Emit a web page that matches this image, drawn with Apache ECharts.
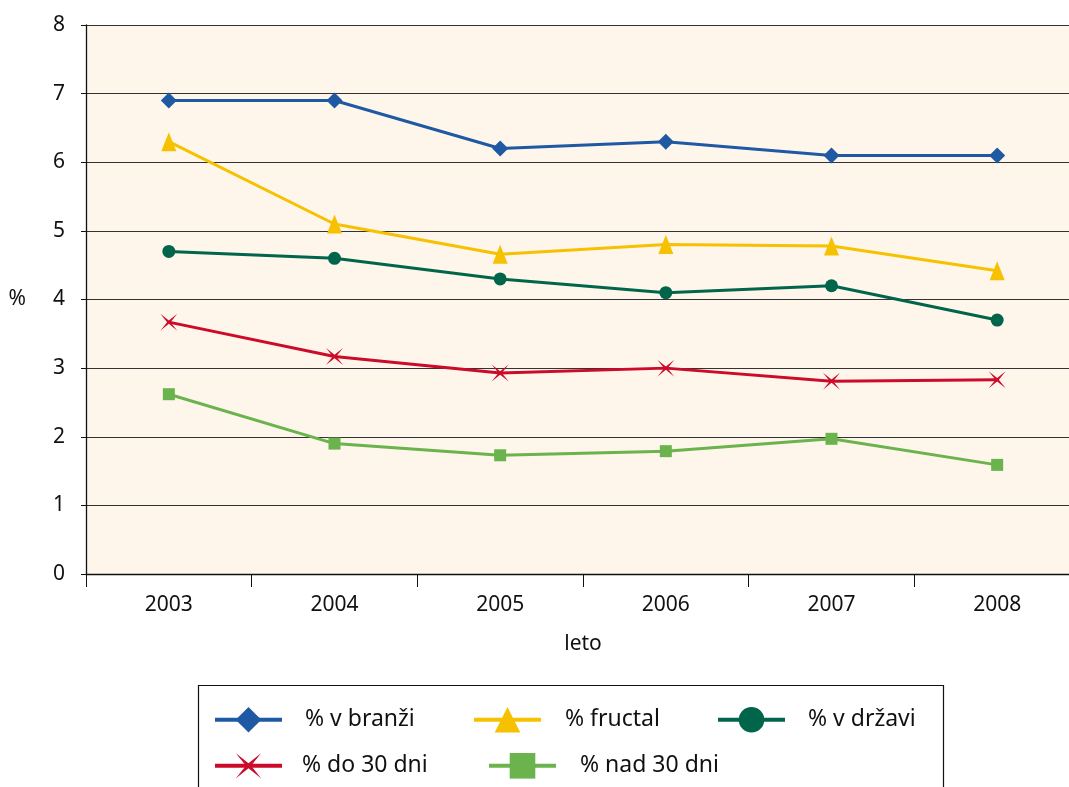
<!DOCTYPE html>
<html>
<head>
<meta charset="utf-8">
<script src="https://cdn.jsdelivr.net/npm/echarts@6/dist/echarts.min.js"></script>
<style>
  html, body { margin: 0; padding: 0; background: #fff; overflow: hidden; }
  /* the plot runs a little past the right edge of the window */
  #chart { width: 1080px; height: 787px; }
</style>
</head>
<body>
<div id="chart"></div>
<script>
// Years on the category axis
const years = ['2003', '2004', '2005', '2006', '2007', '2008'];

// Shares in percent, one array per series
const vBranzi   = [6.9, 6.9, 6.2, 6.3, 6.1, 6.1];
const fructal   = [6.3, 5.1, 4.66, 4.8, 4.78, 4.42];
const vDrzavi   = [4.7, 4.6, 4.3, 4.1, 4.2, 3.7];
const do30dni   = [3.67, 3.17, 2.93, 3.0, 2.81, 2.83];
const nad30dni  = [2.62, 1.9, 1.73, 1.79, 1.97, 1.59];

// Y axis range and step
const yMin = 0, yMax = 8, yStep = 1;

const FONT = 'Noto Sans';
const AXIS_FS = 21;
const LEGEND_FS = 23;
const crossPath = 'path://M0,0 L10,8 L20,0 L12,10 L20,20 L10,12 L0,20 L8,10 Z';

const seriesDefs = [
  { name: '% v branži',   data: vBranzi,  color: '#1F58A3', symbol: 'diamond',  size: [16, 16], legendPos: [208, 702], textPad: 18 },
  { name: '% fructal',    data: fructal,  color: '#F6C100', symbol: 'triangle', size: [15, 19], legendPos: [467, 702], textPad: 19 },
  { name: '% v državi',   data: vDrzavi,  color: '#00654B', symbol: 'circle',   size: 13,       legendPos: [711, 702], textPad: 18 },
  { name: '% do 30 dni',  data: do30dni,  color: '#CC0A2A', symbol: crossPath,  size: 17,       legendPos: [208, 748], textPad: 15 },
  { name: '% nad 30 dni', data: nad30dni, color: '#6AB34D', symbol: 'rect',     size: 12,       legendPos: [482, 748], textPad: 19 }
];

const chart = echarts.init(document.getElementById('chart'), null, { renderer: 'canvas' });

chart.setOption({
  animation: false,
  backgroundColor: '#ffffff',
  textStyle: { fontFamily: FONT },
  grid: {
    left: 86, top: 25, right: 0, bottom: 213,
    show: true, backgroundColor: '#FEF6EA', borderWidth: 0
  },
  xAxis: {
    type: 'category',
    data: years,
    boundaryGap: true,
    name: 'leto',
    nameLocation: 'middle',
    nameGap: 60,
    nameTextStyle: { fontSize: AXIS_FS, color: '#111', fontFamily: FONT },
    axisLine: { lineStyle: { color: '#111', width: 1.3 } },
    axisTick: { show: true, length: 13, lineStyle: { color: '#111', width: 1 } },
    axisLabel: { fontSize: AXIS_FS, color: '#111', margin: 21, fontFamily: FONT },
    splitLine: { show: false }
  },
  yAxis: {
    type: 'value',
    min: yMin, max: yMax, interval: yStep,
    name: '%',
    nameLocation: 'middle',
    nameRotate: 0,
    nameGap: 60,
    nameTextStyle: { fontSize: AXIS_FS, color: '#111', fontFamily: FONT },
    axisLine: { show: true, lineStyle: { color: '#111', width: 1.3 } },
    axisTick: { show: true, length: 5, lineStyle: { color: '#111', width: 1 } },
    axisLabel: { fontSize: AXIS_FS, color: '#111', margin: 21, fontFamily: FONT },
    splitLine: { show: true, lineStyle: { color: '#333333', width: 1.2 } }
  },
  legend: seriesDefs.map(s => ({
    data: [s.name],
    left: s.legendPos[0],
    top: s.legendPos[1],
    itemWidth: 67,
    itemHeight: 32,
    lineStyle: { width: 4 },
    textStyle: { fontSize: LEGEND_FS, color: '#111', fontFamily: FONT, padding: [0, 0, 0, s.textPad] },
    selectedMode: false
  })),
  graphic: [{
    type: 'rect',
    shape: { x: 198.5, y: 685.5, width: 745, height: 120 },
    style: { fill: 'none', stroke: '#111', lineWidth: 1.2 },
    silent: true,
    z: 0
  }],
  series: seriesDefs.map(s => ({
    name: s.name,
    type: 'line',
    data: s.data,
    symbol: s.symbol,
    symbolSize: s.size,
    showAllSymbol: true,
    color: s.color,
    lineStyle: { color: s.color, width: 3 },
    itemStyle: { color: s.color, borderWidth: 0 },
    emphasis: { disabled: true }
  }))
});
</script>
</body>
</html>
